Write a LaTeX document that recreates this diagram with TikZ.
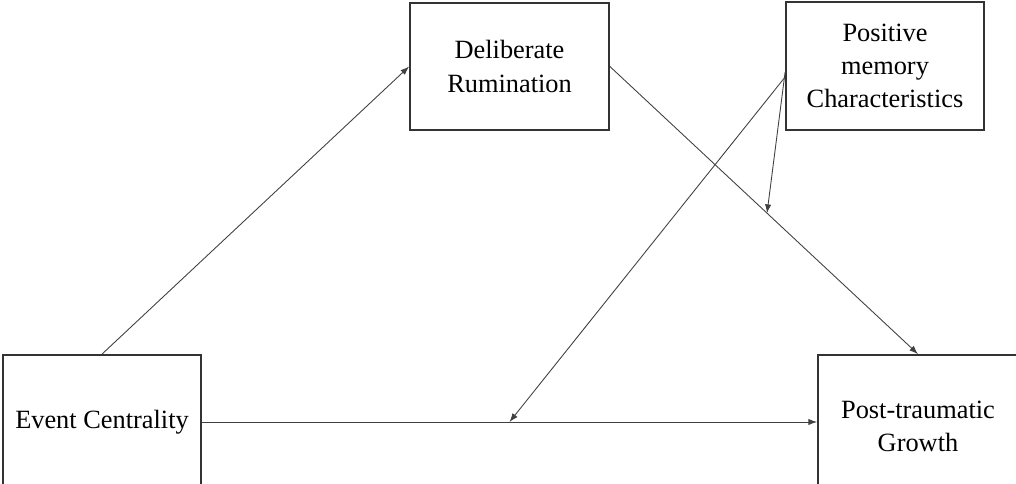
\documentclass[tikz,border=0pt]{standalone}
\usepackage{fontspec}
\setmainfont{Liberation Serif}
\usetikzlibrary{arrows.meta,calc}
\begin{document}
\begin{tikzpicture}[
		box/.style={draw=black!80,line width=1pt,align=center,inner sep=0pt,
			font=\fontsize{15}{18.8}\selectfont},
		path/.style={black!75,line width=0.5pt,-{Latex[length=5pt,width=3.6pt]}}]
		\useasboundingbox (0,0) rectangle (20.32,9.68);
		\node[box,minimum width=3.96cm,minimum height=2.68cm] (ec) at (2.04,1.24) {Event Centrality};
		\node[box,minimum width=3.98cm,minimum height=2.54cm] (dr) at (10.19,8.35) {Deliberate\\Rumination};
		\node[box,minimum width=3.96cm,minimum height=2.56cm] (pmc) at (17.70,8.36) {Positive\\memory\\Characteristics};
		\node[box,minimum width=4.0cm,minimum height=2.84cm] (ptg) at (18.36,1.16) {Post-traumatic\\Growth};
		\coordinate (m1) at ($(ec.east)!0.5!(ec.east -| ptg.west)$);
		\coordinate (m2) at ($(dr.east)!0.51!(ptg.north)$);
		\draw[path] (ec.north) -- (dr.west);
		\draw[path] (dr.east) -- (ptg.north);
		\draw[path] (ec.east) -- (ec.east -| ptg.west);
		\draw[path] ([yshift=-0.22cm]pmc.west) -- (m1);
		\draw[path] ([yshift=-0.12cm]pmc.west) -- (m2);
	\end{tikzpicture}
\end{document}
